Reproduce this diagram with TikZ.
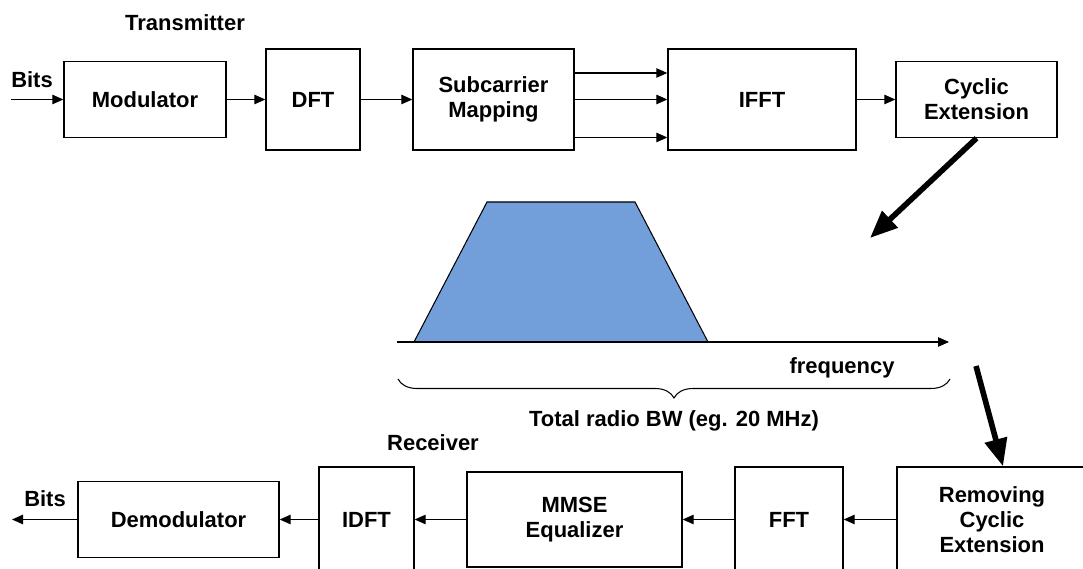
\documentclass[tikz,border=0pt]{standalone}
\usepackage{fontspec}
\setmainfont{Liberation Sans}
\usetikzlibrary{arrows.meta, decorations.pathreplacing}
\definecolor{bandblue}{RGB}{114,159,217}

\begin{document}
\begin{tikzpicture}
  [font=\fontsize{12.5}{14.2}\selectfont\bfseries,
   block/.style={draw, line width=0.8pt, inner sep=0pt, align=center},
   flow/.style={line width=0.6pt, -{Triangle[length=2.2mm,width=1.9mm]}},
   bigflow/.style={line width=3.2pt, -{Triangle[length=5.5mm,width=4.4mm]}},
   tag/.style={inner sep=0pt}]

  \useasboundingbox (0,0) rectangle (21.66,11.38);

  % transmitter chain
  \node[block, minimum width=3.24cm, minimum height=1.52cm] (mod) at (2.9,9.39) {Modulator};
  \node[block, minimum width=1.88cm, minimum height=2.02cm] (dft) at (6.26,9.39) {DFT};
  \node[block, minimum width=3.22cm, minimum height=2.02cm] (sub) at (9.87,9.39) {Subcarrier\\Mapping};
  \node[block, minimum width=3.76cm, minimum height=2.02cm] (ifft) at (15.24,9.39) {IFFT};
  \node[block, minimum width=3.22cm, minimum height=1.52cm] (cyc) at (19.53,9.39) {Cyclic\\Extension};

  \node[tag] (tx) at (3.7,10.92) {Transmitter};
  \node[tag] (bitsin) at (0.64,9.78) {Bits};
  \coordinate (in) at (0.22,9.39);

  \draw[flow] (in) -- (mod.west);
  \draw[flow] (mod.east) -- (dft.west);
  \draw[flow] (dft.east) -- (sub.west);
  \draw[flow] ([yshift=0.53cm]sub.east) -- ([yshift=0.53cm]ifft.west);
  \draw[flow] (sub.east) -- (ifft.west);
  \draw[flow] ([yshift=-0.76cm]sub.east) -- ([yshift=-0.76cm]ifft.west);
  \draw[flow] (ifft.east) -- (cyc.west);

  % spectrum
  \draw[fill=bandblue, line width=0.6pt] (8.28,4.54) -- (9.74,7.34) -- (12.7,7.34) -- (14.16,4.54) -- cycle;
  \coordinate (axstart) at (7.94,4.54);
  \coordinate (axend) at (18.98,4.54);
  \draw[flow] (axstart) -- (axend);
  \node[tag] (freq) at (16.84,4.02) {frequency};

  \coordinate (bwright) at (19.0,3.8);
  \coordinate (bwleft) at (7.96,3.8);
  \draw[line width=0.6pt, decorate, decoration={brace, amplitude=0.38cm}] (bwright) -- (bwleft);
  \node[tag] (bw) at (13.48,2.96) {Total radio BW (eg. 20 MHz)};

  % receiver chain
  \node[block, minimum width=4.02cm, minimum height=1.52cm] (demod) at (3.57,0.99) {Demodulator};
  \node[block, minimum width=1.9cm, minimum height=2.1cm] (idft) at (7.33,0.99) {IDFT};
  \node[block, minimum width=4.3cm, minimum height=1.9cm] (mmse) at (11.49,0.99) {MMSE\\Equalizer};
  \node[block, minimum width=2.16cm, minimum height=2.1cm] (fft) at (15.78,0.99) {FFT};
  \node[block, minimum width=3.8cm, minimum height=2.1cm] (rem) at (19.84,0.99) {Removing\\Cyclic\\Extension};

  \node[tag] (rx) at (8.66,2.52) {Receiver};
  \node[tag] (bitsout) at (0.9,1.4) {Bits};
  \coordinate (out) at (0.24,0.99);

  \draw[flow] (rem.west) -- (fft.east);
  \draw[flow] (fft.west) -- (mmse.east);
  \draw[flow] (mmse.west) -- (idft.east);
  \draw[flow] (idft.west) -- (demod.east);
  \draw[flow] (demod.west) -- (out);

  % big arrows
  \coordinate (down1) at (17.4,6.62);
  \coordinate (down2) at (19.52,4.06);
  \draw[bigflow] (cyc.south) -- (down1);
  \draw[bigflow] (down2) -- ([xshift=0.22cm]rem.north);

\end{tikzpicture}
\end{document}
